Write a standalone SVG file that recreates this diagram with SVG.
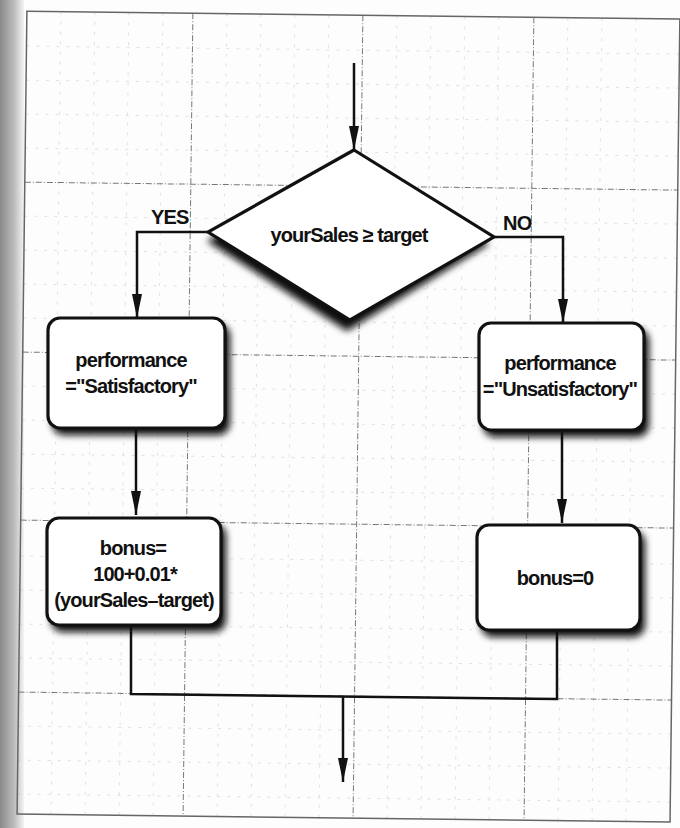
<svg xmlns="http://www.w3.org/2000/svg" width="680" height="828" viewBox="0 0 680 828">
<defs>
  <filter id="sh" x="-20%" y="-20%" width="150%" height="150%">
    <feGaussianBlur stdDeviation="3.5"/>
  </filter>
  <marker id="ah" viewBox="0 0 24 10" refX="24" refY="5" markerWidth="24" markerHeight="10" markerUnits="userSpaceOnUse" orient="auto">
    <path d="M0,0 L24,5 L0,10 Z" fill="#111"/>
  </marker>
  <linearGradient id="edge" x1="0" x2="1" y1="0" y2="0">
    <stop offset="0" stop-color="#8a8a8a"/>
    <stop offset="0.6" stop-color="#bdbdbd"/>
    <stop offset="1" stop-color="#f4f4f4"/>
  </linearGradient>
</defs>
<style>
  .major{stroke:#777;stroke-width:1;fill:none;stroke-dasharray:6 2 1 2}
  .minor{stroke:#999;stroke-width:0.8;fill:none;stroke-dasharray:3 7;opacity:0.35}
  .box{fill:#fff;stroke:#111;stroke-width:3.2}
  .shadow{fill:#111;filter:url(#sh)}
  .conn{stroke:#111;stroke-width:2.5;fill:none}
  .t{font-family:"Liberation Sans",Arial,sans-serif;font-weight:bold;font-size:20px;fill:#111;text-anchor:middle;letter-spacing:-0.9px}
  .lbl{font-family:"Liberation Sans",Arial,sans-serif;font-weight:bold;font-size:20px;fill:#111;letter-spacing:-0.8px}
</style>
<rect width="680" height="828" fill="#fdfdfd"/>
<rect x="0" y="0" width="24" height="828" fill="url(#edge)"/>
<g id="grid" transform="rotate(0.7 340 414)">
  <g class="minor">
    <path d="M56,15V818M90,15V818M124,15V818M158,15V818M222,15V818M256,15V818M290,15V818M324,15V818M392,15V818M426,15V818M460,15V818M494,15V818M563,15V818M597,15V818M631,15V818"/>
    <path d="M22,50H675M22,84H675M22,118H675M22,152H675M22,220H675M22,254H675M22,288H675M22,322H675M22,390H675M22,424H675M22,458H675M22,492H675M22,560H675M22,594H675M22,628H675M22,662H675M22,730H675M22,764H675M22,798H675"/>
  </g>
  <g class="major">
    <path d="M188,15V818M358,15V818M529,15V818"/>
    <path d="M22,186H675M22,356H675M22,524H675M22,696H675"/>
  </g>
  <rect x="22" y="15" width="653" height="803" fill="none" stroke="#666" stroke-width="1.5"/>
</g>
<g id="connectors">
  <path class="conn" d="M354,63V150" marker-end="url(#ah)"/>
  <path class="conn" d="M208,232H137V318" marker-end="url(#ah)"/>
  <path class="conn" d="M494,237H563V323" marker-end="url(#ah)"/>
  <path class="conn" d="M136,428V515" marker-end="url(#ah)"/>
  <path class="conn" d="M562,430V523" marker-end="url(#ah)"/>
  <path class="conn" d="M131,625V694L557,699V630"/>
  <path class="conn" d="M343,697V782" marker-end="url(#ah)"/>
  <text class="lbl" x="151" y="224">YES</text>
  <text class="lbl" x="503" y="230">NO</text>
</g>
<g id="decision">
  <path class="shadow" d="M351,154 L210,237 L350,327 L492,240 Z" transform="translate(-3,4)"/>
  <path class="box" d="M354,150 L208,232 L350,320 L494,237 Z" stroke-linejoin="miter"/>
  <text class="t" x="349" y="242">yourSales ≥ target</text>
</g>
<g id="satisfactory">
  <rect class="shadow" x="52" y="324" width="178" height="111" rx="12"/>
  <rect class="box" x="48" y="318" width="177" height="110" rx="12"/>
  <text class="t" x="131" y="367">performance</text>
  <text class="t" x="131" y="393">="Satisfactory"</text>
</g>
<g id="unsatisfactory">
  <rect class="shadow" x="483" y="329" width="166" height="108" rx="12"/>
  <rect class="box" x="479" y="323" width="165" height="107" rx="12"/>
  <text class="t" x="560" y="370">performance</text>
  <text class="t" x="560" y="396">="Unsatisfactory"</text>
</g>
<g id="bonus-calc">
  <rect class="shadow" x="51" y="524" width="175" height="108" rx="12"/>
  <rect class="box" x="47" y="518" width="174" height="107" rx="12"/>
  <text class="t" x="133" y="555">bonus=</text>
  <text class="t" x="135" y="581">100+0.01*</text>
  <text class="t" x="134" y="607">(yourSales–target)</text>
</g>
<g id="bonus-zero">
  <rect class="shadow" x="481" y="531" width="164" height="106" rx="12"/>
  <rect class="box" x="477" y="525" width="163" height="105" rx="12"/>
  <text class="t" x="555" y="585">bonus=0</text>
</g>
</svg>
